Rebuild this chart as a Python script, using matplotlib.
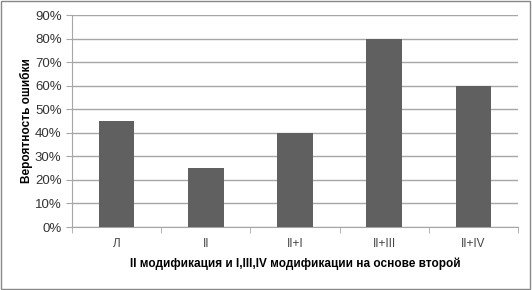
import matplotlib.pyplot as plt
import numpy as np
from matplotlib.ticker import FixedLocator, PercentFormatter

categories = ["Л", "II", "II+I", "II+III", "II+IV"]
values = [45, 25, 40, 80, 60]
y_ticks = [0, 10, 20, 30, 40, 50, 60, 70, 80, 90]

plt.rcParams["font.family"] = ["Liberation Sans", "DejaVu Sans"]

fig = plt.figure(figsize=(5.32, 2.90), dpi=100)
ax = fig.add_axes([0.1353, 0.2172, 0.8384, 0.7308])

x = np.arange(len(categories))
ax.bar(x, values, width=0.4, color="#606060", zorder=3)

ax.set_xlim(-0.5, len(categories) - 0.5)
ax.set_ylim(0, 90)
ax.set_yticks(y_ticks)
ax.yaxis.set_major_formatter(PercentFormatter(decimals=0))
ax.grid(axis="y", color="#a6a6a6", lw=1, zorder=0)

ax.set_xticks(x)
ax.set_xticklabels(categories)
ax.xaxis.set_minor_locator(FixedLocator(np.arange(-0.5, len(categories), 1.0)))
ax.tick_params(axis="x", which="major", length=0, pad=8, labelsize=8.5)
ax.tick_params(axis="x", which="minor", length=4, color="#a6a6a6")
ax.tick_params(axis="y", length=4, color="#a6a6a6", labelsize=9.5)
ax.tick_params(axis="x", labelcolor="#444444")
ax.tick_params(axis="y", labelcolor="#333333")

for s in ["top", "right"]:
    ax.spines[s].set_visible(False)
for s in ["left", "bottom"]:
    ax.spines[s].set_color("#a6a6a6")

ax.set_ylabel("Вероятность ошибки", fontsize=8.5, fontweight="bold")
ax.yaxis.set_label_coords(-0.087, 0.5)
ax.set_xlabel("II модификация и I,III,IV модификации на основе второй",
              fontsize=8.5, fontweight="bold", labelpad=5)

fig.patches.append(plt.Rectangle((0.002, 0.003), 0.995, 0.994, transform=fig.transFigure,
                                 fill=False, edgecolor="#888888", lw=1))

fig.savefig("out.png", dpi=100)
